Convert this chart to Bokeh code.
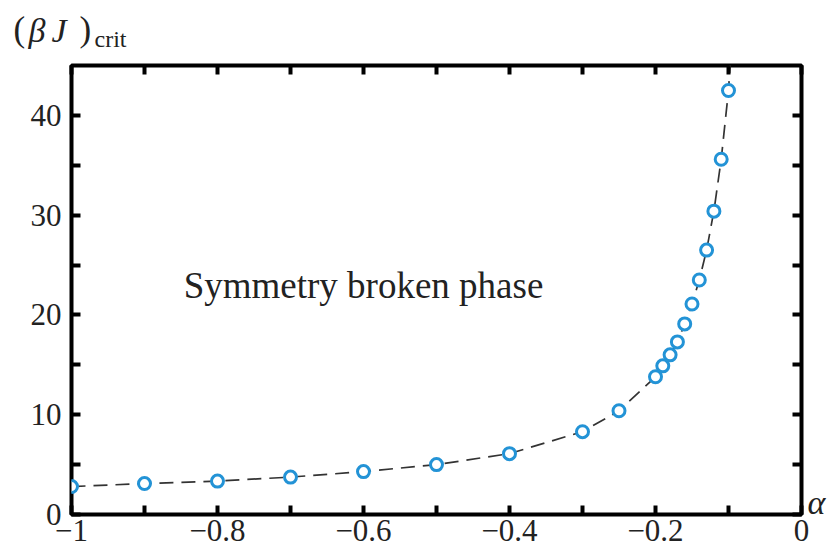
from bokeh.plotting import figure
from bokeh.models import FixedTicker, LinearAxis, Label, Range1d
from bokeh.embed import file_html
from bokeh.resources import INLINE

# ---- data ----
alpha = [-1.0, -0.9, -0.8, -0.7, -0.6, -0.5, -0.4, -0.3, -0.25,
         -0.2, -0.19, -0.18, -0.17, -0.16, -0.15, -0.14, -0.13, -0.12, -0.11, -0.10]
bj_crit = [2.8, 3.1, 3.35, 3.75, 4.3, 5.0, 6.1, 8.3, 10.4,
           13.8, 14.9, 16.0, 17.3, 19.1, 21.1, 23.5, 26.5, 30.4, 35.6, 42.5]
# dashed guide curve continues past the last point up to the frame top
curve_alpha = alpha + [-0.096]
curve_bj = bj_crit + [47.0]

x_major = [-1.0, -0.8, -0.6, -0.4, -0.2, 0.0]
x_minor = [-0.9, -0.7, -0.5, -0.3, -0.1]
x_labels = {-1.0: "\u22121", -0.8: "\u22120.8", -0.6: "\u22120.6",
            -0.4: "\u22120.4", -0.2: "\u22120.2", 0.0: "0"}
y_major = [0, 10, 20, 30, 40]
y_minor = [5, 15, 25, 35]

SERIF = "Liberation Serif"
TXT = "#222222"

p = figure(width=832, height=549, output_backend="svg", toolbar_location=None,
           x_range=Range1d(-1.0, 0.0), y_range=Range1d(0, 45),
           x_axis_type=None, y_axis_type=None,
           min_border_left=68, min_border_right=31, min_border_top=65, min_border_bottom=35)
p.grid.visible = False
p.outline_line_color = "black"
p.outline_line_width = 4
p.background_fill_color = "white"
p.border_fill_color = "white"


def style_axis(ax, show_labels):
    ax.axis_line_color = None
    ax.major_tick_in = 9
    ax.major_tick_out = 0
    ax.minor_tick_in = 9
    ax.minor_tick_out = 0
    ax.major_tick_line_width = 4
    ax.minor_tick_line_width = 4
    ax.major_tick_line_color = "black"
    ax.minor_tick_line_color = "black"
    ax.major_label_text_font = SERIF
    ax.major_label_text_color = TXT
    if show_labels:
        ax.major_label_text_font_size = "31px"
    else:
        ax.major_label_text_font_size = "0px"
        ax.major_label_standoff = 0


xt = FixedTicker(ticks=x_major, minor_ticks=x_minor)
yt = FixedTicker(ticks=y_major, minor_ticks=y_minor)

xb = LinearAxis(ticker=xt, major_label_overrides=x_labels, major_label_standoff=5)
style_axis(xb, True)
p.add_layout(xb, "below")
xa = LinearAxis(ticker=xt)
style_axis(xa, False)
p.add_layout(xa, "above")
yl = LinearAxis(ticker=yt, major_label_standoff=10)
style_axis(yl, True)
p.add_layout(yl, "left")
yr = LinearAxis(ticker=yt)
style_axis(yr, False)
p.add_layout(yr, "right")

# dashed curve and markers
p.line(curve_alpha, curve_bj, line_color="#333333", line_width=1.7, line_dash="14 8")
p.scatter(alpha, bj_crit, marker="circle", size=12, fill_color="white",
          line_color="#2393d6", line_width=3)

# annotation text
p.add_layout(Label(x=-0.6, y=23.0, text="Symmetry broken phase", text_align="center",
                   text_baseline="alphabetic", text_font=SERIF, text_font_size="37px",
                   text_color=TXT))

# labels outside the frame live in side panels (canvas pixel positions),
# spread so that each panel's free space can hold them
cu = dict(x_units="canvas", y_units="canvas", text_baseline="alphabetic",
          text_font=SERIF, text_color=TXT)
# x axis symbol at the right end
p.add_layout(Label(x=807, y=502, text="\u03b1", text_font_size="34px",
                   text_font_style="italic", **cu), "right")
# y axis title "(βJ)crit"
p.add_layout(Label(x=13, y=29, text="(", text_font_size="35px", **cu), "left")
p.add_layout(Label(x=28, y=30, text="\u03b2", text_font_size="34px",
                   text_font_style="italic", **cu), "above")
p.add_layout(Label(x=51, y=30, text="J", text_font_size="34px",
                   text_font_style="italic", **cu), "left")
p.add_layout(Label(x=79, y=29, text=")", text_font_size="35px", **cu), "right")
p.add_layout(Label(x=94, y=38, text="crit", text_font_size="24px", **cu), "above")

open("out.html", "w").write(file_html(p, INLINE))
